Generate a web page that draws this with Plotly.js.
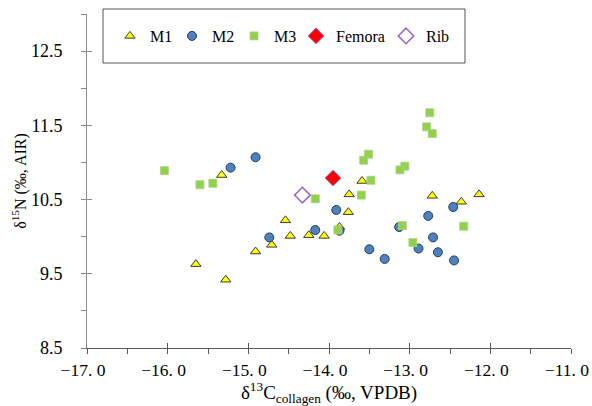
<!DOCTYPE html>
<html>
<head>
<meta charset="utf-8">
<script src="https://cdn.plot.ly/plotly-3.0.1.min.js"></script>
<style>html,body{margin:0;padding:0;background:#fff;}#chart{width:592px;height:406px;}</style>
</head>
<body>
<div id="chart"></div>
<script>
// ---- data ----
const m1X = [-15.33, -14.54, -14.48, -14.25, -14.06, -14.71, -14.91, -15.65, -15.28, -13.59, -13.75, -12.72, -12.14, -12.36, -13.76, -13.87];
const m1Y = [10.83, 10.22, 10.01, 10.02, 10.01, 9.89, 9.80, 9.63, 9.42, 10.75, 10.57, 10.55, 10.57, 10.47, 10.33, 10.13];

const m2X = [-15.22, -14.91, -13.91, -14.17, -14.74, -13.87, -12.46, -12.77, -13.13, -12.71, -12.89, -13.50, -12.65, -13.31, -12.45];
const m2Y = [10.93, 11.07, 10.36, 10.09, 9.99, 10.08, 10.40, 10.28, 10.13, 9.99, 9.84, 9.83, 9.79, 9.70, 9.68];

const m3X = [-16.04, -15.60, -15.44, -14.17, -13.89, -12.75, -12.79, -12.72, -13.51, -13.57, -13.06, -13.12, -13.48, -13.60, -12.33, -13.09, -12.96];
const m3Y = [10.89, 10.70, 10.72, 10.51, 10.09, 11.67, 11.48, 11.39, 11.11, 11.03, 10.95, 10.90, 10.76, 10.56, 10.14, 10.15, 9.92];

const femoraX = [-13.95];
const femoraY = [10.79];

const ribX = [-14.33];
const ribY = [10.56];

const seriesNames = ["M1", "M2", "M3", "Femora", "Rib"];

const xRange = [-17, -11];
const yRange = [8.5, 13.0];
const xTickVals = [-17, -16, -15, -14, -13, -12, -11];
const xTickText = ["\u221217. 0", "\u221216. 0", "\u221215. 0", "\u221214. 0", "\u221213. 0", "\u221212. 0", "\u221211. 0"];
const yTickVals = [8.5, 9.5, 10.5, 11.5, 12.5];
const yTickText = ["8.5", "9.5", "10.5", "11.5", "12.5"];

// ---- styling ----
const serif = "Liberation Serif";
const xAxisColor = "#595959";
const yAxisColor = "#8a8a8a";

const traces = [
  {x: m1X, y: m1Y, name: seriesNames[0], type: "scatter", mode: "markers", legendwidth: 17,
   marker: {symbol: "triangle-up", size: 9, color: "#FFFF00", line: {color: "#3a3a3a", width: 1}}},
  {x: m2X, y: m2Y, name: seriesNames[1], type: "scatter", mode: "markers", legendwidth: 17,
   marker: {symbol: "circle", size: 9, color: "#4F81BD", line: {color: "#243F60", width: 1}}},
  {x: m3X, y: m3Y, name: seriesNames[2], type: "scatter", mode: "markers", legendwidth: 17,
   marker: {symbol: "square", size: 8, color: "#92D050", line: {color: "#A9D47A", width: 0.8}}},
  {x: femoraX, y: femoraY, name: seriesNames[3], type: "scatter", mode: "markers", legendwidth: 45,
   marker: {symbol: "diamond", size: 12, color: "#FF0000", line: {color: "#8A4FB0", width: 0.8}}},
  {x: ribX, y: ribY, name: seriesNames[4], type: "scatter", mode: "markers", legendwidth: 23,
   marker: {symbol: "diamond-open", size: 12, color: "#9966CC", line: {width: 1.5}}},
  // empty helper trace so the overlay axes (inner half of crossing ticks) exist
  {x: [], y: [], xaxis: "x2", yaxis: "y2", type: "scatter", mode: "markers", showlegend: false, hoverinfo: "skip"}
];

const plotL = 87, plotR = 571, plotT = 14, plotB = 348;
const W = 592, H = 406;
const pw = plotR - plotL, ph = plotB - plotT;
const px = v => (v - plotL) / pw;
const py = v => (plotB - v) / ph;

const layout = {
  width: W, height: H,
  margin: {l: plotL, r: W - plotR, t: plotT, b: H - plotB, pad: 0},
  paper_bgcolor: "#ffffff", plot_bgcolor: "#ffffff",
  font: {family: serif, color: "#000000", size: 16},
  showlegend: true,
  legend: {
    orientation: "h", x: px(110), xanchor: "left", y: py(36), yanchor: "middle",
    bgcolor: "rgba(0,0,0,0)", borderwidth: 0,
    font: {family: serif, size: 16, color: "#000"}, itemclick: false
  },
  xaxis: {
    range: xRange, showgrid: false, zeroline: false, showline: true, linecolor: xAxisColor, linewidth: 1,
    tickmode: "array", tickvals: xTickVals, ticktext: xTickText, ticklabeloverflow: "allow", ticklabelshift: -4,
    ticks: "outside", ticklen: 5, tickcolor: xAxisColor, tickwidth: 1,
    minor: {tickmode: "linear", tick0: -16.5, dtick: 1, ticks: "outside", ticklen: 5, tickcolor: xAxisColor, tickwidth: 1, showgrid: false},
    tickfont: {family: serif, size: 17.5, color: "#000"}, ticklabelstandoff: 1,
    title: {text: "\u03b4<sup>13</sup>C<sub>collagen</sub> (\u2030, VPDB)", font: {family: serif, size: 19, color: "#000"}, standoff: 4},
    fixedrange: true
  },
  yaxis: {
    range: yRange, showgrid: false, zeroline: false, showline: true, linecolor: yAxisColor, linewidth: 1,
    tickmode: "array", tickvals: yTickVals, ticktext: yTickText, ticklabeloverflow: "allow",
    ticks: "outside", ticklen: 5, tickcolor: yAxisColor, tickwidth: 1,
    minor: {tickmode: "linear", tick0: 9.0, dtick: 1, ticks: "outside", ticklen: 5, tickcolor: yAxisColor, tickwidth: 1, showgrid: false},
    tickfont: {family: serif, size: 18, color: "#000"}, ticklabelstandoff: 15,
    title: {text: "\u03b4<sup>15</sup>N (\u2030, AIR)", font: {family: serif, size: 16, color: "#000"}, standoff: 0},
    fixedrange: true
  },
  xaxis2: {
    overlaying: "x", anchor: "y", range: xRange, showgrid: false, zeroline: false, showline: false,
    tickmode: "array", tickvals: xTickVals, showticklabels: false,
    ticks: "inside", ticklen: 5, tickcolor: xAxisColor, tickwidth: 1, fixedrange: true
  },
  yaxis2: {
    overlaying: "y", anchor: "x", range: yRange, showgrid: false, zeroline: false, showline: false,
    tickmode: "array", tickvals: yTickVals, showticklabels: false,
    ticks: "inside", ticklen: 5, tickcolor: yAxisColor, tickwidth: 1, fixedrange: true
  },
  shapes: [
    {type: "rect", xref: "paper", yref: "paper", x0: px(103), x1: px(465), y0: py(63), y1: py(9),
     line: {color: "#555555", width: 1}, fillcolor: "rgba(255,255,255,0)", layer: "below"}
  ]
};

Plotly.newPlot("chart", traces, layout, {displayModeBar: false, staticPlot: true});
</script>
</body>
</html>
